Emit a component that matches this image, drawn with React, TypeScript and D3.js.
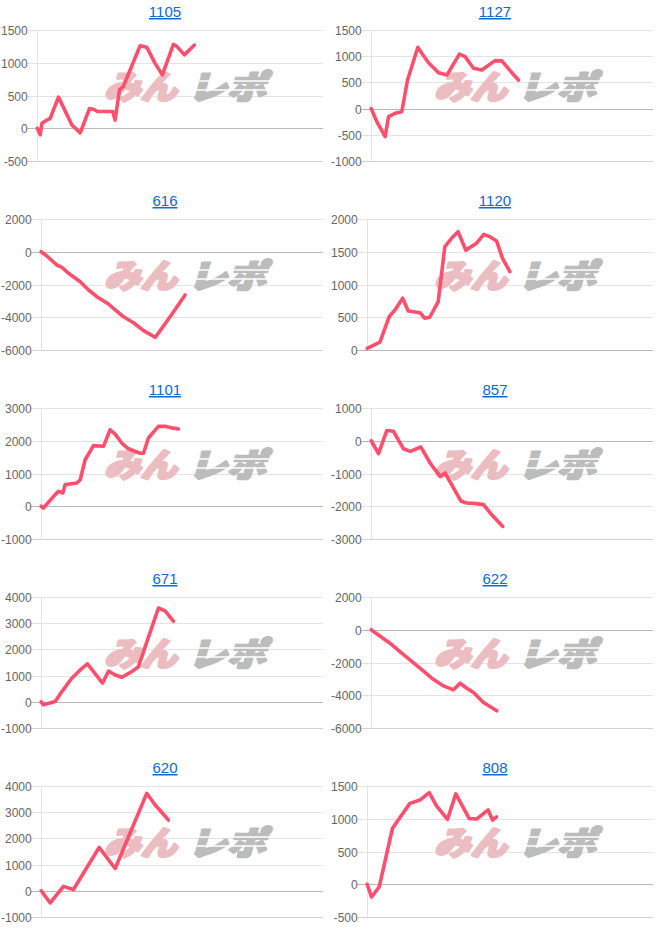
import React from 'react';
import * as d3 from 'd3';

// Machine numbers (panel titles), row-major, 2 columns
const titles: string[] = ['1105', '1127', '616', '1120', '1101', '857', '671', '622', '620', '808'];

// Y-axis tick values per panel
const ticks1105 = [1500, 1000, 500, 0, -500];
const ticks1127 = [1500, 1000, 500, 0, -500, -1000];
const ticks616 = [2000, 0, -2000, -4000, -6000];
const ticks1120 = [2000, 1500, 1000, 500, 0];
const ticks1101 = [3000, 2000, 1000, 0, -1000];
const ticks857 = [1000, 0, -1000, -2000, -3000];
const ticks671 = [4000, 3000, 2000, 1000, 0, -1000];
const ticks622 = [2000, 0, -2000, -4000, -6000];
const ticks620 = [4000, 3000, 2000, 1000, 0, -1000];
const ticks808 = [1500, 1000, 500, 0, -500];

// Series: [games, coin difference]
const s1105: [number, number][] = [[0, 0], [105, -100], [165, 75], [340, 125], [455, 150], [745, 475], [1215, 50], [1505, -70], [1830, 300], [1970, 290], [2110, 255], [2645, 255], [2725, 125], [2880, 585], [3015, 640], [3600, 1260], [3835, 1235], [4125, 990], [4380, 815], [4765, 1280], [4885, 1250], [5150, 1120], [5500, 1270]];
const s1127: [number, number][] = [[0, 0], [200, -250], [495, -535], [615, -155], [850, -90], [1085, -60], [1290, 545], [1655, 1170], [1795, 1055], [2035, 875], [2390, 685], [2685, 640], [3130, 1040], [3335, 990], [3630, 770], [3925, 735], [4395, 915], [4635, 910], [4990, 685], [5225, 545]];
const s616: [number, number][] = [[0, 0], [200, -260], [555, -810], [735, -950], [970, -1315], [1385, -1830], [1680, -2335], [1975, -2745], [2385, -3190], [2625, -3555], [2920, -3970], [3275, -4335], [3630, -4820], [4045, -5225], [4195, -4880], [4575, -3970], [5105, -2640]];
const s1120: [number, number][] = [[0, 25], [445, 120], [770, 510], [970, 610], [1240, 790], [1435, 595], [1845, 570], [2015, 485], [2190, 500], [2485, 740], [2715, 1575], [2950, 1705], [3180, 1805], [3450, 1525], [3825, 1630], [4080, 1765], [4290, 1730], [4525, 1665], [4735, 1400], [4990, 1195]];
const s1101: [number, number][] = [[0, 0], [80, -55], [495, 355], [615, 455], [770, 405], [850, 660], [1265, 710], [1385, 810], [1560, 1420], [1855, 1850], [2210, 1830], [2445, 2335], [2625, 2200], [2860, 1930], [3095, 1755], [3510, 1620], [3630, 1620], [3805, 2085], [4160, 2440], [4395, 2440], [4690, 2385], [4870, 2360]];
const s857: [number, number][] = [[0, 0], [260, -395], [555, 315], [790, 290], [1145, -245], [1385, -325], [1760, -190], [2090, -680], [2445, -1090], [2625, -985], [3190, -1850], [3390, -1900], [3745, -1920], [3985, -1950], [4220, -2205], [4670, -2615]];
const s671: [number, number][] = [[0, 0], [80, -115], [495, 10], [735, 390], [1085, 900], [1385, 1215], [1640, 1445], [2175, 710], [2390, 1175], [2625, 1025], [2860, 935], [3215, 1150], [3450, 1340], [4160, 3580], [4395, 3470], [4690, 3075]];
const s622: [number, number][] = [[0, 0], [320, -395], [675, -835], [1030, -1345], [1385, -1850], [1740, -2355], [2150, -2960], [2565, -3430], [2920, -3670], [3155, -3265], [3390, -3570], [3630, -3835], [3985, -4445], [4455, -4950]];
const s620: [number, number][] = [[0, 0], [320, -465], [790, 170], [1145, 50], [2055, 1655], [2625, 850], [3745, 3720], [4045, 3275], [4515, 2700]];
const s808: [number, number][] = [[0, 0], [150, -195], [420, -40], [885, 855], [1085, 980], [1495, 1235], [1845, 1285], [2170, 1400], [2425, 1195], [2810, 990], [3100, 1380], [3565, 1005], [3825, 995], [4230, 1135], [4385, 980], [4525, 1030]];

const GAME_MAX = 10000;

const allTicks = [ticks1105, ticks1127, ticks616, ticks1120, ticks1101, ticks857, ticks671, ticks622, ticks620, ticks808];
const allSeries = [s1105, s1127, s616, s1120, s1101, s857, s671, s622, s620, s808];

const LABEL_FONT = '"Liberation Sans", Arial, Helvetica, sans-serif';
const WM_FONT = '"Noto Sans CJK JP", sans-serif';

function labelWidth(s: string): number {
  let w = 0;
  for (const c of s) w += c === '-' ? 4.0 : 6.674;
  return w;
}

function Panel({ i }: { i: number }) {
  const col = i % 2;
  const row = Math.floor(i / 2);
  const ox = col * 330;
  const oy = row * 189;
  const tks = allTicks[i];
  const data = allSeries[i];
  const maxW = d3.max(tks, (t) => labelWidth(String(t))) as number;
  const left = ox + maxW + 10.5;
  const right = ox + 323;
  const top = oy + 30;
  const bottom = oy + 161;
  const x = d3.scaleLinear().domain([0, GAME_MAX]).range([left, right]);
  const y = d3.scaleLinear().domain([d3.min(tks) as number, d3.max(tks) as number]).range([bottom, top]);
  const line = d3
    .line<[number, number]>()
    .x((d) => x(d[0]))
    .y((d) => y(d[1]));
  const yMin = d3.min(tks) as number;

  return (
    <g>
      <text
        x={ox + 165}
        y={oy + 17}
        textAnchor="middle"
        fontSize={15}
        fontFamily={LABEL_FONT}
        fill="#0b6bd3"
        textDecoration="underline"
      >
        {titles[i]}
      </text>
      {tks.map((t) => {
        const yy = Math.round(y(t)) + 0.5;
        const stroke = t === 0 ? '#b9b9b9' : t === yMin ? '#d2d2d2' : '#e3e3e3';
        return (
          <g key={t}>
            <line x1={left - 10} x2={right} y1={yy} y2={yy} stroke={stroke} strokeWidth={1} />
            <text
              x={left - 9.5}
              y={yy}
              dy="0.35em"
              textAnchor="end"
              fontSize={12}
              fontFamily={LABEL_FONT}
              fill="#666"
            >
              {t}
            </text>
          </g>
        );
      })}
      <line x1={Math.round(left) + 0.5} x2={Math.round(left) + 0.5} y1={top} y2={bottom} stroke="#e3e3e3" strokeWidth={1} />
      {/* watermark */}
      <g transform={`translate(${ox},${oy})`}>
        <g transform="translate(104,99) skewX(-16)">
          <text
            x={0}
            y={0}
            fontSize={33}
            fontWeight={900}
            fontFamily={WM_FONT}
            fill="#ebbcc0"
            stroke="#ebbcc0"
            strokeWidth={2.4}
            strokeLinejoin="round"
            textLength={73}
            lengthAdjust="spacingAndGlyphs"
          >
            みん
          </text>
          <text
            x={84}
            y={0}
            fontSize={33}
            fontWeight={900}
            fontFamily={WM_FONT}
            fill="#bcbcbc"
            stroke="#bcbcbc"
            strokeWidth={2.4}
            strokeLinejoin="round"
            textLength={78}
            lengthAdjust="spacingAndGlyphs"
          >
            レポ
          </text>
          <line x1={80} x2={168} y1={-18} y2={-18} stroke="#fff" strokeWidth={1.3} />
          <line x1={80} x2={168} y1={-9} y2={-9} stroke="#fff" strokeWidth={1.3} />
        </g>
      </g>
      <path
        d={line(data) || ''}
        fill="none"
        stroke="#ff4f6d"
        strokeWidth={3.6}
        strokeLinejoin="round"
        strokeLinecap="round"
      />
    </g>
  );
}

export default function App() {
  return (
    <svg
      width={660}
      height={945}
      style={{ position: 'absolute', left: 0, top: 0, background: '#fff' }}
    >
      {titles.map((_, i) => (
        <Panel key={i} i={i} />
      ))}
    </svg>
  );
}
